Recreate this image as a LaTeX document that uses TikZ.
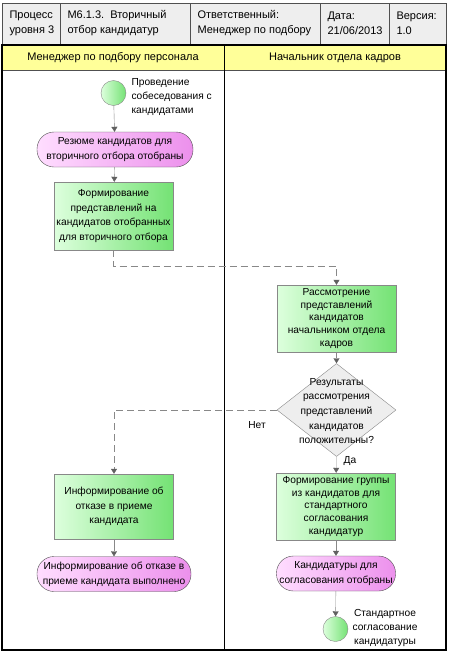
\documentclass[tikz,border=0pt]{standalone}
\usepackage{fontspec}
\setmainfont{Liberation Sans}
\usetikzlibrary{arrows.meta,shapes.geometric}
\definecolor{hdrgray}{HTML}{EEEEEE}
\definecolor{hdrline}{HTML}{505050}
\definecolor{laneyellow}{HTML}{FFFF99}
\definecolor{taskA}{HTML}{DDFFDD}
\definecolor{taskB}{HTML}{74E274}
\definecolor{evA}{HTML}{FFDDFF}
\definecolor{evB}{HTML}{EC90EC}
\definecolor{lineg}{HTML}{888888}
\definecolor{tipg}{HTML}{606060}
\tikzset{
  txt/.style={font=\fontsize{10.2}{#1}\selectfont},
  txt/.default=13,
  bigtxt/.style={font=\fontsize{11}{#1}\selectfont},
  bigtxt/.default=15,
  task/.style={draw=lineg, left color=taskA, right color=taskB,
    minimum width=119pt, minimum height=67pt, inner sep=0pt, align=center},
  event/.style={draw=hdrline, rounded corners=17pt, left color=evA, right color=evB,
    minimum height=35pt, inner sep=0pt, align=center, txt=15},
  decision/.style={diamond, draw=lineg, fill=hdrgray, minimum width=119pt,
    minimum height=93pt, inner sep=0pt},
  startev/.style={circle, draw=lineg, left color=taskA, right color=taskB,
    minimum size=25pt, inner sep=0pt},
  flow/.style={draw=lineg, -{Triangle[width=6pt,length=5pt,color=tipg]}},
  dflow/.style={flow, dash pattern=on 7pt off 4pt},
}
\begin{document}
\begin{tikzpicture}[x=1pt,y=-1pt]
  \useasboundingbox (0,0) rectangle (450,654);
  % header table
  \fill[hdrgray] (2,3) rectangle (446,45);
  \foreach \x in {60,190,320,389} \draw[hdrline] (\x,3) -- (\x,45);
  \draw[hdrline] (2,3) rectangle (446,45);
  \node[bigtxt, anchor=west, align=left] (hproc) at (6,23) {Процесс\\уровня 3};
  \node[bigtxt, anchor=west, align=left] (hname) at (64,23) {М6.1.3.\ \ Вторичный\\отбор кандидатур};
  \node[bigtxt, anchor=west, align=left] (hresp) at (194,23) {Ответственный:\\Менеджер по подбору};
  \node[bigtxt, anchor=west, align=left] (hdate) at (324,23) {Дата:\\21/06/2013};
  \node[bigtxt, anchor=west, align=left] (hver) at (393,23) {Версия:\\1.0};
  % lanes
  \fill[laneyellow] (2,45) rectangle (446,70);
  \draw[hdrline] (2,70) -- (446,70);
  \draw[line width=1.3pt] (2,45) rectangle (446,650);
  \draw[line width=1.3pt] (224.5,45) -- (224.5,650);
  \node[bigtxt] (lane1) at (113,57.5) {Менеджер по подбору персонала};
  \node[bigtxt] (lane2) at (335,57.5) {Начальник отдела кадров};
  % left lane
  \node[startev] (start) at (113.5,93) {};
  \node[txt=13.8, anchor=west, align=left] (startlbl) at (128,97) {Проведение\\собеседования с\\кандидатами};
  \node[event, minimum width=156pt] (ev1) at (115,149.5) {Резюме кандидатов для\\вторичного отбора отобраны};
  \node[task, minimum height=68pt, txt=14.4] (t1) at (113.5,216) {Формирование\\представлений на\\кандидатов отобранных\\для вторичного отбора};
  \node[task, minimum height=65pt, txt=14.5] (t3) at (114,506.5) {Информирование об\\отказе в приеме\\кандидата};
  \node[event, minimum width=154pt] (ev2) at (114,574) {Информирование об отказе в\\приеме кандидата выполнено};
  % right lane
  \node[task, txt=12.75] (t2) at (336.5,318.5) {Рассмотрение\\представлений\\кандидатов\\начальником отдела\\кадров};
  \node[decision] (dec) at (336.5,410) {};
  \node[txt=14.6, align=center] (dectxt) at (336.5,411) {Результаты\\рассмотрения\\представлений\\кандидатов\\положительны?};
  \node[task, txt=12.75] (t4) at (336,506.5) {Формирование группы\\из кандидатов для\\стандартного\\согласования\\кандидатур};
  \node[event, minimum width=119pt] (ev3) at (336,573.5) {Кандидатуры для\\согласования отобраны};
  \node[startev] (finish) at (335.5,629) {};
  \node[txt=14.3, align=center] (finlbl) at (385,628) {Стандартное\\согласование\\кандидатуры};
  % connectors
  \coordinate (turn1) at (113.5,266);
  \draw[flow] (start) -- (ev1);
  \draw[flow] (ev1) -- (t1);
  \draw[dflow] (t1) -- (turn1) -| (t2);
  \draw[flow] (t2) -- (dec);
  \draw[dflow] (dec.west) -| (t3);
  \draw[flow] (dec) -- (t4);
  \draw[flow] (t3) -- (ev2);
  \draw[flow] (t4) -- (ev3);
  \draw[flow] (ev3) -- (finish);
  \node[txt] (no) at (257,425.5) {Нет};
  \node[txt] (yes) at (350,461) {Да};
\end{tikzpicture}
\end{document}
